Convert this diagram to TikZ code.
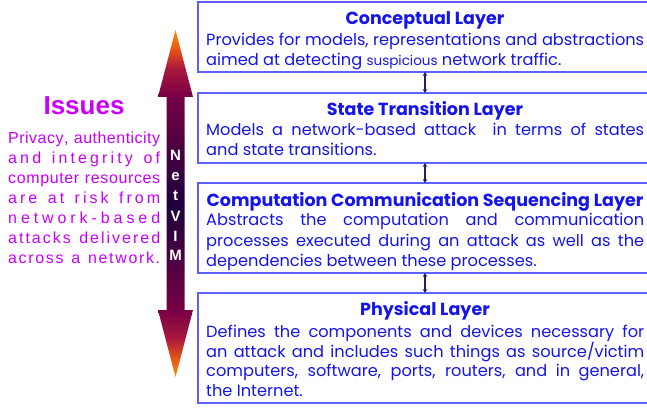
\documentclass[tikz,border=0pt]{standalone}
\usepackage{fontspec}
\usepackage{graphicx}
\setmainfont{Poppins}
\newfontfamily\arialf{Liberation Sans}
\usetikzlibrary{arrows.meta}
\definecolor{tblue}{RGB}{20,20,235}
\definecolor{bblue}{RGB}{95,95,255}
\definecolor{mag}{RGB}{200,0,250}
\definecolor{navyc}{RGB}{30,30,120}
\definecolor{aorange}{RGB}{255,145,0}
\definecolor{ared}{RGB}{235,90,20}
\definecolor{amar}{RGB}{170,25,60}
\definecolor{amar2}{RGB}{120,0,70}
\definecolor{adark}{RGB}{28,0,60}
\pgfdeclareverticalshading{netvim}{100bp}{color(0bp)=(aorange); color(25bp)=(aorange); color(27.5bp)=(ared); color(30.5bp)=(amar); color(34.6bp)=(amar2); color(50bp)=(adark); color(65.4bp)=(amar2); color(69.5bp)=(amar); color(72.5bp)=(ared); color(75bp)=(aorange); color(100bp)=(aorange)}
\makeatletter
\def\spr@end{\spr@end}
\def\spreadline#1{\hbox to 152pt{\hskip 0pt plus -1fill\spr@#1\spr@end}}
\def\spr@#1{\ifx#1\spr@end\else\hfill#1\expandafter\spr@\fi}
\makeatother
\newsavebox{\jlbox}
\newcommand{\jl}[1]{\sbox{\jlbox}{#1}\ifdim\wd\jlbox>438pt\resizebox{438pt}{\height}{\usebox{\jlbox}}\else\makebox[438pt][s]{#1}\fi}
\newcommand{\fitw}[1]{\sbox{\jlbox}{#1}\ifdim\wd\jlbox>438pt\resizebox{438pt}{\height}{\usebox{\jlbox}}\else\usebox{\jlbox}\fi}
\tikzset{
  layerbox/.style={draw=bblue, line width=1.3pt, inner sep=0pt, outer sep=0pt, minimum width=454pt, anchor=north west},
  ttl/.style={text=tblue, font=\fontsize{17.5}{20}\selectfont\bfseries, inner sep=0pt, anchor=base},
  body/.style={text=tblue, font=\fontsize{16.2}{20}\selectfont, inner sep=0pt, anchor=base west},
  leftline/.style={text=mag, font=\arialf\fontsize{16}{20}\selectfont, inner sep=0pt, anchor=base west},
  vimletter/.style={text=white, font=\arialf\bfseries\fontsize{15}{18}\selectfont, inner sep=0pt, anchor=base},
  conn/.style={draw=navyc, line width=1.2pt, {Stealth[length=4pt,width=4.5pt]}-{Stealth[length=4pt,width=4.5pt]}}
}
\begin{document}
\begin{tikzpicture}[x=1pt,y=-1pt]
\useasboundingbox (0,0) rectangle (647,409);
\clip (0,0) rectangle (647,409);
% layer boxes
\node[layerbox, minimum height=70pt] (b1) at (198,2) {};
\node[layerbox, minimum height=70pt] (b2) at (198,93) {};
\node[layerbox, minimum height=90pt] (b3) at (198,183) {};
\node[layerbox, minimum height=110pt] (b4) at (198,293) {};
\draw[conn] (b1.south) -- (b2.north);
\draw[conn] (b2.south) -- (b3.north);
\draw[conn] (b3.south) -- (b4.north);
% box 1
\node[ttl] (t1) at (425,25) {Conceptual Layer};
\node[body] (l1a) at (206,45.5) {\jl{Provides for models, representations and abstractions}};
\node[body] (l1b) at (206,66) {\fitw{aimed at detecting {\fontsize{13.5}{20}\selectfont suspicious} network traffic.}};
% box 2
\node[ttl] (t2) at (425,115) {State Transition Layer};
\node[body] (l2a) at (206,135.5) {\jl{Models a network-based attack\ \ in terms of states}};
\node[body] (l2b) at (206,155.5) {and state transitions.};
% box 3
\node[ttl] (t3) at (425,206) {\fitw{Computation Communication Sequencing Layer}};
\node[body] (l3a) at (206,225.5) {\jl{Abstracts the computation and communication}};
\node[body] (l3b) at (206,246) {\jl{processes executed during an attack as well as the}};
\node[body] (l3c) at (206,266) {\fitw{dependencies between these processes.}};
% box 4
\node[ttl] (t4) at (425,315) {Physical Layer};
\node[body] (l4a) at (206,337) {\jl{Defines the components and devices necessary for}};
\node[body] (l4b) at (206,357) {\jl{an attack and includes such things as source/victim}};
\node[body] (l4c) at (206,376.5) {\jl{computers, software, ports, routers, and in general,}};
\node[body] (l4d) at (206,396) {the Internet.};
% big arrow
\shade[shading=netvim] (175.5,30) -- (193,97) -- (184.5,97) -- (184.5,310) -- (193,310) -- (175.5,377) -- (158,310) -- (166.5,310) -- (166.5,97) -- (158,97) -- cycle;
\node[vimletter] (v1) at (175.5,160.5) {N};
\node[vimletter] (v2) at (175.5,180) {e};
\node[vimletter] (v3) at (175.5,200.5) {t};
\node[vimletter] (v4) at (175.5,221.5) {V};
\node[vimletter] (v5) at (175.5,241.5) {I};
\node[vimletter] (v6) at (175.5,260.5) {M};
% issues
\node[text=mag, font=\arialf\bfseries\fontsize{26}{30}\selectfont, inner sep=0pt, anchor=base] (iss) at (84,114) {Issues};
\node[leftline] (p1) at (8,143.5) {\spreadline{Privacy,~authenticity}};
\node[leftline] (p2) at (8,163.5) {\spreadline{and~integrity~of}};
\node[leftline] (p3) at (8,183.5) {\spreadline{computer~resources}};
\node[leftline] (p4) at (8,203.5) {\spreadline{are~at~risk~from}};
\node[leftline] (p5) at (8,223.5) {\spreadline{network-based}};
\node[leftline] (p6) at (8,243.5) {\spreadline{attacks~delivered}};
\node[leftline] (p7) at (8,263.5) {\spreadline{across~a~network.}};
\end{tikzpicture}
\end{document}
